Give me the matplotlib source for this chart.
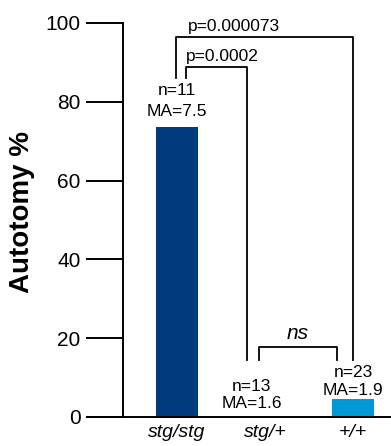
import matplotlib
matplotlib.use("Agg")
from matplotlib import pyplot as plt

# data
genotypes = ['stg/stg', 'stg/+', '+/+']
autotomy = [73.5, 0.0, 4.5]
n_counts = ['n=11', 'n=13', 'n=23']
ma_values = ['MA=7.5', 'MA=1.6', 'MA=1.9']
bar_colors = ['#003b7c', '#003b7c', '#0099d7']

# brackets: (x left, x right, y top, y bottom left, y bottom right, label, label x offset)
brackets = [
    (-0.01, 2.0, 96.5, 86.0, 14.4, 'p=0.000073', 0.13),
    (0.10, 0.80, 88.9, 86.0, 14.4, 'p=0.0002', 0.0),
    (0.93, 1.82, 17.7, 14.4, 14.4, 'ns', 0.0),
]

plt.rcParams['font.family'] = ['Liberation Sans', 'DejaVu Sans']

fig = plt.figure(figsize=(3.91, 4.46), dpi=100)
ax = fig.add_axes([123/391, 1-417/446, 1-123/391, 394/446])

x = list(range(len(genotypes)))
ax.bar(x, autotomy, width=0.48, color=bar_colors, zorder=2)

ax.set_xlim(-0.614, 2.43)
ax.set_ylim(0, 100)
ax.set_yticks([0, 20, 40, 60, 80, 100])
ax.set_xticks(x)
ax.set_xticklabels(genotypes, fontstyle='italic', fontsize=14)
ax.tick_params(axis='y', length=26.5, width=1.4, labelsize=15, pad=4)
ax.tick_params(axis='x', length=0, pad=5)

for s in ['top', 'right']:
    ax.spines[s].set_visible(False)
ax.spines['left'].set_linewidth(1.4)
ax.spines['bottom'].set_linewidth(1.4)
ax.spines['bottom'].set_bounds(-1.02, 2.43)
ax.spines['bottom'].set_clip_on(False)

ax.set_ylabel('Autotomy %', fontsize=20, fontweight='bold')
ax.yaxis.set_label_coords(-0.33, 0.52)

# n / MA labels above bars
ann_x = [0.0, 0.85, 2.0]
ann_y = [(82.8, 77.6), (7.7, 3.3), (11.4, 6.6)]
for i in range(len(genotypes)):
    ax.text(ann_x[i], ann_y[i][0], n_counts[i], ha='center', va='center', fontsize=12.5)
    ax.text(ann_x[i], ann_y[i][1], ma_values[i], ha='center', va='center', fontsize=12.5)

# significance brackets
for (xl, xr, yt, ybl, ybr, lab, dx) in brackets:
    ax.plot([xl, xl, xr, xr], [ybl, yt, yt, ybr], color='black', lw=1.3, clip_on=False, zorder=3)
    if lab == 'ns':
        ax.text((xl + xr)/2, yt + 1.0, lab, ha='center', va='bottom', fontsize=15, fontstyle='italic')
    else:
        ax.text(xl + dx, yt + 0.8, lab, ha='left', va='bottom', fontsize=12.5, clip_on=False)

fig.savefig('out.png', dpi=100)
